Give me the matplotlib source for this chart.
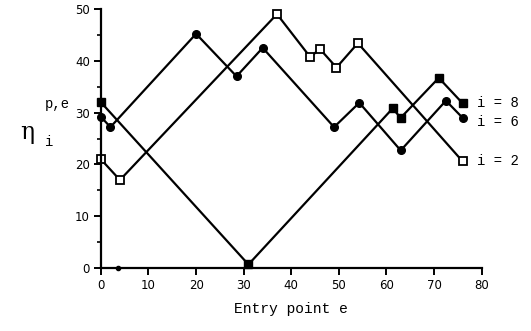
import matplotlib.pyplot as plt
import numpy as np

# i = 2 (open squares)
e_i2 = [0, 4, 37, 44, 46, 49.5, 54, 76]
eta_i2 = [21, 17, 49, 40.7, 42.3, 38.7, 43.4, 20.6]

# i = 6 (filled circles)
e_i6 = [0, 2, 20, 28.5, 34, 49, 54.3, 63, 72.5, 76]
eta_i6 = [29.2, 27.2, 45.2, 37, 42.5, 27.2, 31.9, 22.7, 32.3, 29]

# i = 8 (filled squares)
e_i8 = [0, 31, 61.3, 63, 71, 76]
eta_i8 = [32, 0.7, 30.8, 29, 36.7, 31.8]

# stray point at the bottom
e_dot = [3.5]
eta_dot = [0]

labels = ["i = 8", "i = 6", "i = 2"]

mono = "Liberation Mono"

fig = plt.figure(figsize=(5.31, 3.31), dpi=100)
ax = fig.add_axes([0.190, 0.190, 0.717, 0.783])

ax.plot(e_i2, eta_i2, color="black", lw=1.6, marker="s", ms=5.5,
        mfc="white", mec="black", mew=1.3, clip_on=False)
ax.plot(e_i6, eta_i6, color="black", lw=1.6, marker="o", ms=5.5,
        mfc="black", mec="black", clip_on=False)
ax.plot(e_i8, eta_i8, color="black", lw=1.6, marker="s", ms=6,
        mfc="black", mec="black", clip_on=False)
ax.plot(e_dot, eta_dot, color="black", marker="o", ms=3, ls="none", clip_on=False)

ax.set_xlim(0, 80)
ax.set_ylim(0, 50)
ax.set_xticks(np.arange(0, 81, 10))
ax.set_yticks(np.arange(0, 51, 10))
ax.set_yticks(np.arange(5, 50, 10), minor=True)

for s in ["top", "right"]:
    ax.spines[s].set_visible(False)
for s in ["left", "bottom"]:
    ax.spines[s].set_linewidth(1.6)

ax.tick_params(axis="both", which="major", direction="out", length=5, width=1.4,
               labelsize=8.5, pad=3)
ax.tick_params(axis="y", which="minor", direction="out", length=3, width=1.2)

# series labels at the right ends
ax.text(79, eta_i8[-1], labels[0], fontfamily=mono, fontsize=10, va="center",
        ha="left", clip_on=False)
ax.text(79, 28.2, labels[1], fontfamily=mono, fontsize=10, va="center",
        ha="left", clip_on=False)
ax.text(79, eta_i2[-1], labels[2], fontfamily=mono, fontsize=10, va="center",
        ha="left", clip_on=False)

ax.set_xlabel("Entry point e", fontfamily=mono, fontsize=10.5, labelpad=7)

# y label: eta with sub/superscript
fig.text(0.038, 0.60, "η", fontfamily="DejaVu Serif", fontsize=17, va="center", ha="left")
fig.text(0.085, 0.685, "p,e", fontfamily=mono, fontsize=10, va="center", ha="left")
fig.text(0.085, 0.57, "i", fontfamily=mono, fontsize=10, va="center", ha="left")

fig.savefig("out.png", dpi=100)
